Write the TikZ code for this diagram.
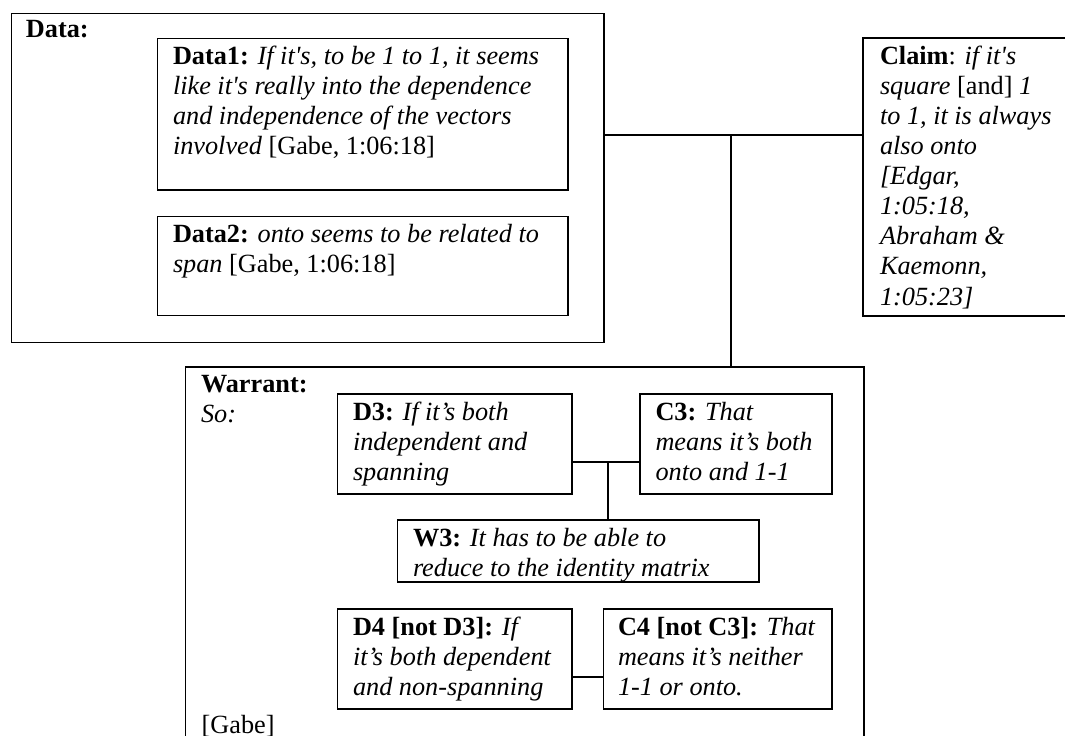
\documentclass[tikz,border=0pt]{standalone}
\usepackage{fontspec}
\newfontfamily\tnr{Liberation Serif}
% left-aligned block of lines whose baseline is that of its first line
\newcommand\toplines[1]{\begin{tabular}[t]{@{}l@{}}#1\end{tabular}}
\begin{document}
\begin{tikzpicture}[x=0.75pt,y=-0.75pt,
  box/.style={draw,line width=1.1pt,anchor=north west,inner sep=0pt,outer sep=0pt},
  txt/.style={anchor=base west,inner sep=0pt,outer sep=0pt,
    font=\tnr\fontsize{19.7}{22.6}\selectfont},
  link/.style={line width=1.1pt}]
\useasboundingbox (0,0) rectangle (1065,736);
\fill[white] (0,0) rectangle (1065,736);
\clip (0,0) rectangle (1065,736);

% Data group
\node[box,minimum width=592.5*0.75pt,minimum height=329*0.75pt] (data) at (11.5,13.3) {};
\node[txt] (datalbl) at (26,37) {\textbf{Data:}};
\node[box,minimum width=410.3*0.75pt,minimum height=151.7*0.75pt] (d1) at (157.7,38.3) {};
\node[txt] (d1t) at (173,64) {\toplines{\textbf{Data1:} \textit{If it's, to be 1 to 1, it seems}\\
  \textit{like it's really into the dependence}\\
  \textit{and independence of the vectors}\\
  \textit{involved} [Gabe, 1:06:18]}};
\node[box,minimum width=410.3*0.75pt,minimum height=99.2*0.75pt] (d2) at (157.7,216.5) {};
\node[txt] (d2t) at (173,242) {\toplines{\textbf{Data2:} \textit{onto seems to be related to}\\
  \textit{span} [Gabe, 1:06:18]}};

% Claim
\node[box,minimum width=250*0.75pt,minimum height=278*0.75pt] (claim) at (863,38) {};
\node[txt] (claimt) at (880,64) {\toplines{\textbf{Claim}: \textit{if it's}\\
  \textit{square} [and] \textit{1}\\
  \textit{to 1, it is always}\\
  \textit{also onto}\\
  \textit{[Edgar,}\\
  \textit{1:05:18,}\\
  \textit{Abraham \&}\\
  \textit{Kaemonn,}\\
  \textit{1:05:23]}}};

% Warrant group
\node[box,minimum width=678.3*0.75pt,minimum height=400*0.75pt] (warrant) at (185.7,367) {};
\node[txt] (warrantt) at (201,392) {\toplines{\textbf{Warrant:}\\ \textit{So:}}};
\node[txt] (gabe) at (201.7,733) {[Gabe]};

\node[box,minimum width=234.3*0.75pt,minimum height=100*0.75pt] (d3) at (337.7,394) {};
\node[txt] (d3t) at (353,420) {\toplines{\textbf{D3:} \textit{If it’s both}\\
  \textit{independent and}\\
  \textit{spanning}}};
\node[box,minimum width=192*0.75pt,minimum height=100*0.75pt] (c3) at (640,394) {};
\node[txt] (c3t) at (655.5,420) {\toplines{\textbf{C3:} \textit{That}\\
  \textit{means it’s both}\\
  \textit{onto and 1-1}}};
\node[box,minimum width=361.3*0.75pt,minimum height=62*0.75pt] (w3) at (397.7,520) {};
\node[txt] (w3t) at (413,546) {\toplines{\textbf{W3:} \textit{It has to be able to}\\
  \textit{reduce to the identity matrix}}};
\node[box,minimum width=234.3*0.75pt,minimum height=100*0.75pt] (d4) at (337.7,609) {};
\node[txt] (d4t) at (353,635) {\toplines{\textbf{D4 [not D3]:} \textit{If}\\
  \textit{it’s both dependent}\\
  \textit{and non-spanning}}};
\node[box,minimum width=228.3*0.75pt,minimum height=100*0.75pt] (c4) at (603.7,609) {};
\node[txt] (c4t) at (618,635) {\toplines{\textbf{C4 [not C3]:} \textit{That}\\
  \textit{means it’s neither}\\
  \textit{1-1 or onto.}}};

% Connectors
\coordinate (j) at (731,135);
\draw[link] (data.east |- j) -- (claim.west |- j);
\draw[link] (j) -- (j |- warrant.north);
\coordinate (k) at (608,462);
\draw[link] (d3.east |- k) -- (c3.west |- k);
\draw[link] (k) -- (k |- w3.north);
\coordinate (m) at (588,677);
\draw[link] (d4.east |- m) -- (c4.west |- m);
\end{tikzpicture}
\end{document}
